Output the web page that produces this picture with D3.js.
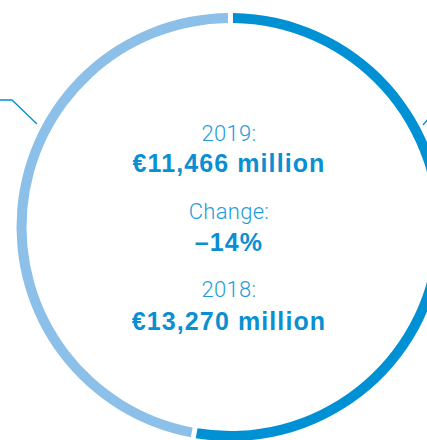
<!DOCTYPE html>
<html>
<head>
<meta charset="utf-8">
<script src="https://cdn.jsdelivr.net/npm/d3@7"></script>
<style>
  html, body { margin: 0; padding: 0; background: #fff; }
  svg { display: block; }
</style>
</head>
<body>
<svg id="chart" width="427" height="440"></svg>
<script>
// Ring segments (share of the total, clockwise from 12 o'clock)
const segments = ["Segment", "Rest of group"];
const shares = [52.8, 47.2];
const segmentColors = ["#0090d4", "#8dc0e8"];

// Centre annotation
const years = ["2019:", "2018:"];
const amounts = ["€11,466 million", "€13,270 million"];
const changeLabel = "Change:";
const changeValue = "–14%";

const W = 427, H = 440;
const cx = 230.5, cy = 227;
const outerR = 214, innerR = 204;

const svg = d3.select("#chart");
const g = svg.append("g").attr("transform", `translate(${cx},${cy})`);

const pie = d3.pie().sort(null).value(d => d.value).padAngle(5 / 209);
const arc = d3.arc().innerRadius(innerR).outerRadius(outerR).padRadius(209);

const data = segments.map((s, i) => ({ name: s, value: shares[i], color: segmentColors[i] }));

g.selectAll("path.seg")
  .data(pie(data))
  .join("path")
  .attr("class", "seg")
  .attr("d", arc)
  .attr("fill", d => d.data.color);

// Leader lines pointing out of the ring
const leaders = [
  [[0, 100], [12, 100], [37, 124]],
  [[423, 125], [433, 113]]
];
svg.selectAll("polyline.leader")
  .data(leaders)
  .join("polyline")
  .attr("class", "leader")
  .attr("points", d => d.map(p => p.join(",")).join(" "))
  .attr("fill", "none")
  .attr("stroke", "#0090d4")
  .attr("stroke-width", 1.3);

// Centre text block
const lightFont = "Roboto, 'Liberation Sans', Arial, sans-serif";
const boldFont = "'Liberation Sans', Arial, sans-serif";
const textX = 229;

const lines = [
  { text: years[0], y: 141, bold: false },
  { text: amounts[0], y: 172, bold: true },
  { text: changeLabel, y: 219, bold: false },
  { text: changeValue, y: 251, bold: true },
  { text: years[1], y: 297, bold: false },
  { text: amounts[1], y: 329.5, bold: true }
];

svg.selectAll("text.center")
  .data(lines)
  .join("text")
  .attr("class", "center")
  .attr("x", textX)
  .attr("y", d => d.y)
  .attr("text-anchor", "middle")
  .attr("font-family", d => d.bold ? boldFont : lightFont)
  .attr("font-weight", d => d.bold ? 700 : 300)
  .attr("font-size", d => d.bold ? 25 : 22)
  .attr("letter-spacing", d => d.bold ? 1.1 : 0.3)
  .attr("fill", d => d.bold ? "#0a8fd2" : "#1f9cd9")
  .text(d => d.text);
</script>
</body>
</html>
